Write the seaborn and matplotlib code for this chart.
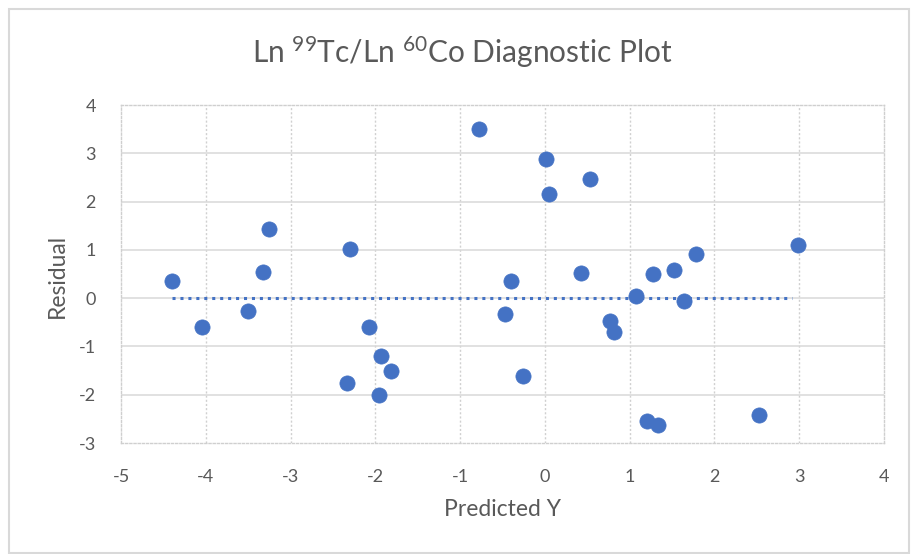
import matplotlib
matplotlib.use("Agg")
import matplotlib.pyplot as plt
import seaborn as sns
import pandas as pd
from matplotlib.patches import Rectangle

predicted_y = [-4.40, -4.05, -3.50, -3.32, -3.25,
               -2.30, -2.08, -1.93, -1.82, -2.34, -1.96,
               -0.78, 0.01, 0.53, 0.05, 2.98, 1.78, -0.40, 0.43, 1.28,
               1.52, 1.08, 1.64, -0.47, 0.77, 0.81, -0.26, 1.20, 1.34, 2.53]
residual = [0.36, -0.59, -0.26, 0.54, 1.43,
            1.01, -0.59, -1.19, -1.50, -1.75, -2.00,
            3.50, 2.88, 2.46, 2.16, 1.11, 0.91, 0.36, 0.53, 0.50,
            0.58, 0.05, -0.06, -0.33, -0.48, -0.71, -1.62, -2.55, -2.62, -2.42]
zero_line_x = [-4.40, 2.92]
zero_line_y = [0, 0]
x_ticks = [-5, -4, -3, -2, -1, 0, 1, 2, 3, 4]
y_ticks = [-3, -2, -1, 0, 1, 2, 3, 4]

df = pd.DataFrame({"Predicted Y": predicted_y, "Residual": residual})

sns.set_theme(style="white")
plt.rcParams['font.family'] = ['Lato', 'DejaVu Sans']
plt.rcParams['mathtext.default'] = 'regular'

fig = plt.figure(figsize=(9.13, 5.54), dpi=100)
ax = fig.add_axes([121/913, 1-443/554, (884-121)/913, (443-105)/554])

blue = "#4472C4"
ax.plot(zero_line_x, zero_line_y, linestyle=(0, (1, 1.6)), color=blue, lw=2.2, zorder=2)
sns.scatterplot(data=df, x="Predicted Y", y="Residual", ax=ax, color=blue,
                s=120, edgecolor=blue, linewidth=0.5, zorder=3)

ax.set_xlim(-5, 4)
ax.set_ylim(-3, 4)
ax.set_xticks(x_ticks)
ax.set_yticks(y_ticks)
ax.set_xticklabels([str(v) for v in x_ticks])
ax.set_yticklabels([str(v) for v in y_ticks])
ax.tick_params(axis='both', length=0, labelsize=13, labelcolor="#595959")
ax.tick_params(axis='x', pad=19)
ax.tick_params(axis='y', pad=18)

for v in x_ticks[1:-1]:
    ax.axvline(v, color="#d0d0d0", lw=1, linestyle=(0, (1.5, 1.5)), zorder=1)
for v in y_ticks[1:-1]:
    ax.axhline(v, color="#d9d9d9", lw=1.1, zorder=1)
for sp in ax.spines.values():
    sp.set_color("#cfcfcf")
    sp.set_linestyle((0, (1.5, 1.5)))
    sp.set_linewidth(1)

ax.set_xlabel("")
ax.set_ylabel("")
fig.text(502/913, 1-510/554, "Predicted Y", ha="center", va="center",
         fontsize=16.5, color="#595959")
fig.text(57/913, 1-276/554, "Residual", ha="center", va="center",
         rotation=90, fontsize=16.5, color="#595959")

fig.text(462/913, 1-52/554, r"Ln $^{99}$Tc/Ln $^{60}$Co Diagnostic Plot",
         ha="center", va="center", fontsize=21.5, color="#595959")

fig.patches.append(Rectangle((9/913, 0.002), (909-9)/913, 1-9/554-0.002,
                             transform=fig.transFigure, fill=False,
                             edgecolor="#d9d9d9", lw=1.5))

fig.savefig("out.png", dpi=100, facecolor="white")
